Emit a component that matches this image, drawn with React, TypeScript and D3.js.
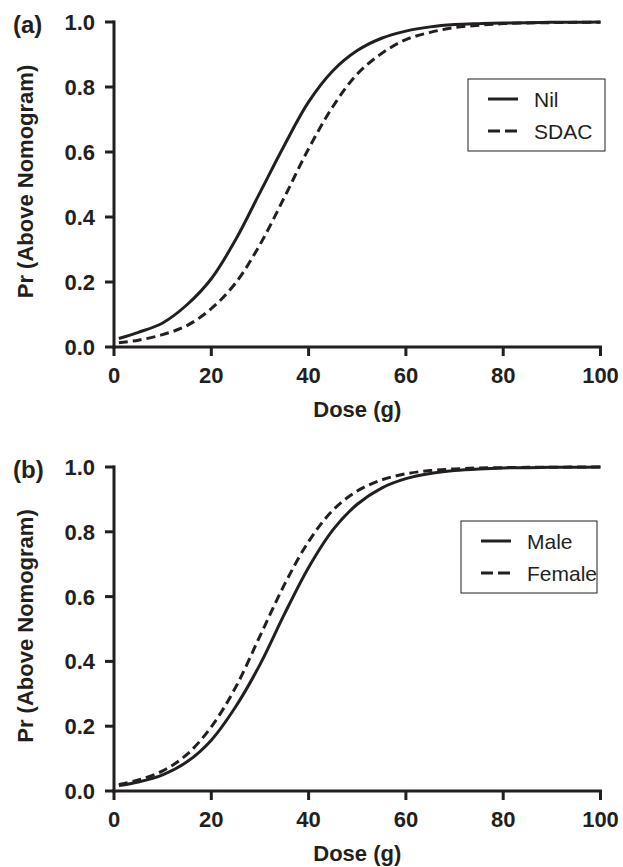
import React from 'react';
import * as d3 from 'd3';

// doses (g) at which the curves were read
const doses = [1, 5, 10, 15, 20, 25, 30, 35, 40, 45, 50, 55, 60, 65, 70, 75, 80, 85, 90, 95, 100];

// panel (a)
const nilValues = [0.026, 0.045, 0.074, 0.13, 0.21, 0.33, 0.475, 0.62, 0.754, 0.85, 0.912, 0.95, 0.972, 0.985, 0.992, 0.995, 0.997, 0.998, 0.999, 0.999, 1.0];
const sdacValues = [0.013, 0.021, 0.038, 0.066, 0.118, 0.197, 0.315, 0.46, 0.61, 0.74, 0.84, 0.903, 0.946, 0.968, 0.983, 0.99, 0.995, 0.997, 0.998, 0.999, 0.999];

// panel (b)
const maleValues = [0.017, 0.028, 0.05, 0.09, 0.157, 0.26, 0.39, 0.545, 0.69, 0.806, 0.885, 0.935, 0.964, 0.98, 0.989, 0.994, 0.997, 0.998, 0.999, 0.999, 1.0];
const femaleValues = [0.02, 0.034, 0.062, 0.113, 0.198, 0.32, 0.478, 0.636, 0.77, 0.867, 0.926, 0.96, 0.979, 0.989, 0.994, 0.997, 0.998, 0.999, 0.999, 1.0, 1.0];

const xTicks = [0, 20, 40, 60, 80, 100];
const yTicks = [0, 0.2, 0.4, 0.6, 0.8, 1.0];

const INK = '#231f20';
const FONT = '"Liberation Sans", Arial, Helvetica, sans-serif';

type Series = { name: string; values: number[]; dashed: boolean };

const Panel = ({ tag, top, bottom, series, legend }: {
  tag: string;
  top: number;
  bottom: number;
  series: Series[];
  legend: { x: number; y: number; w: number; h: number };
}) => {
  const x = d3.scaleLinear().domain([0, 100]).range([114, 600.5]);
  const y = d3.scaleLinear().domain([0, 1]).range([bottom, top]);
  const line = d3.line<number>()
    .x((_, i) => x(doses[i]))
    .y(d => y(d))
    .curve(d3.curveCatmullRom.alpha(0.5));

  const midY = (top + bottom) / 2;

  return (
    <g>
      <text x={13} y={top + 11} fontFamily={FONT} fontWeight="bold" fontSize={24} fill={INK}>{tag}</text>

      {/* curves */}
      {series.map(s => (
        <path key={s.name} d={line(s.values) || ''} fill="none" stroke={INK} strokeWidth={3}
          strokeDasharray={s.dashed ? '9,5' : undefined} />
      ))}

      {/* y axis */}
      <line x1={x(0)} x2={x(0)} y1={y(1) - 1.5} y2={y(0) + 1.5} stroke={INK} strokeWidth={3} />
      {yTicks.map(t => (
        <g key={t}>
          <line x1={x(0) - 9} x2={x(0)} y1={y(t)} y2={y(t)} stroke={INK} strokeWidth={3} />
          <text x={x(0) - 19} y={y(t)} dy="0.36em" textAnchor="end" fontFamily={FONT}
            fontWeight="bold" fontSize={22} fill={INK}>{t.toFixed(1)}</text>
        </g>
      ))}

      {/* x axis */}
      <line x1={x(0) - 1.5} x2={x(100) + 1.5} y1={y(0)} y2={y(0)} stroke={INK} strokeWidth={3} />
      {xTicks.map(t => (
        <g key={t}>
          <line x1={x(t)} x2={x(t)} y1={y(0)} y2={y(0) + 9} stroke={INK} strokeWidth={3} />
          <text x={x(t)} y={y(0) + 36} textAnchor="middle" fontFamily={FONT}
            fontWeight="bold" fontSize={22} fill={INK}>{t}</text>
        </g>
      ))}

      <text x={(x(0) + x(100)) / 2} y={y(0) + 70} textAnchor="middle" fontFamily={FONT}
        fontWeight="bold" fontSize={22} fill={INK}>Dose (g)</text>
      <text transform={`translate(33, ${midY - 3}) rotate(-90)`} textAnchor="middle" fontFamily={FONT}
        fontWeight="bold" fontSize={22} fill={INK}>Pr (Above Nomogram)</text>

      {/* legend */}
      <rect x={legend.x} y={legend.y} width={legend.w} height={legend.h} fill="#fff" stroke={INK} strokeWidth={1} />
      {series.map((s, i) => {
        const ly = legend.y + 20 + i * 32;
        return (
          <g key={s.name}>
            <line x1={legend.x + 20} x2={legend.x + 50} y1={ly} y2={ly} stroke={INK} strokeWidth={3}
              strokeDasharray={s.dashed ? '12,5' : undefined} />
            <text x={legend.x + 66} y={ly} dy="0.36em" fontFamily={FONT} fontSize={21} fill={INK}>{s.name}</text>
          </g>
        );
      })}
    </g>
  );
};

export default function App() {
  return (
    <svg width={623} height={867} style={{ position: 'absolute', left: 0, top: 0, background: '#fff' }}>
      <Panel tag="(a)" top={22} bottom={347}
        series={[
          { name: 'Nil', values: nilValues, dashed: false },
          { name: 'SDAC', values: sdacValues, dashed: true },
        ]}
        legend={{ x: 468, y: 79, w: 137, h: 72 }} />
      <Panel tag="(b)" top={467} bottom={791}
        series={[
          { name: 'Male', values: maleValues, dashed: false },
          { name: 'Female', values: femaleValues, dashed: true },
        ]}
        legend={{ x: 461, y: 521, w: 136, h: 72 }} />
    </svg>
  );
}
